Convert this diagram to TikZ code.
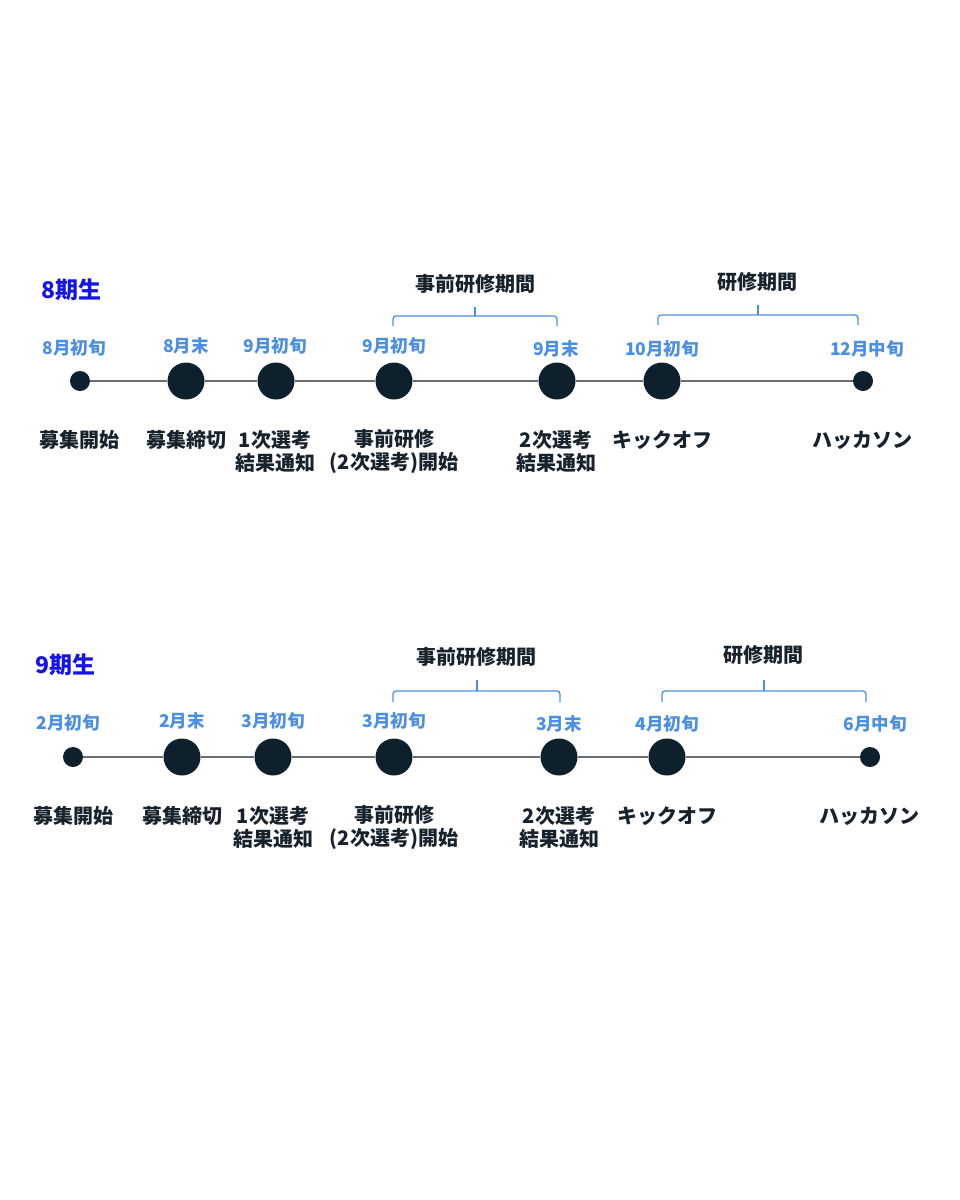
\documentclass[tikz,border=0pt]{standalone}
\usepackage{fontspec}
\setmainfont{Noto Sans CJK JP}
\definecolor{dotc}{HTML}{0F202D}
\definecolor{evtc}{HTML}{17222C}
\definecolor{monthc}{HTML}{4A8FE4}
\definecolor{brkc}{HTML}{4A8FE4}
\definecolor{ttlc}{HTML}{1414E6}
\definecolor{linec}{HTML}{6A6E72}
\begin{document}
\begin{tikzpicture}[x=1pt,y=-1pt,
 dotbig/.style={circle,fill=dotc,inner sep=0pt,minimum size=37pt},
 dotsmall/.style={circle,fill=dotc,inner sep=0pt,minimum size=20pt},
 month/.style={text=monthc,font=\bfseries\fontsize{17.5}{20}\selectfont,inner sep=0pt},
 evt/.style={text=evtc,font=\bfseries\fontsize{20}{23}\selectfont,align=center,inner sep=0pt},
 ttl/.style={text=ttlc,font=\bfseries\fontsize{23}{26}\selectfont,anchor=west,inner sep=0pt},
 brk/.style={draw=brkc,line width=1.3pt,rounded corners=3pt},
 tl/.style={draw=linec,line width=1.3pt},
]
\fill[white] (0,0) rectangle (960,1200);
\useasboundingbox (0,0) rectangle (960,1200);

% ---------------- 8期生 ----------------
\node[ttl] (t8) at (41,290) {8期生};
\node[dotsmall] (a1) at (80,381) {};
\node[dotbig] (a2) at (186,381) {};
\node[dotbig] (a3) at (276,381) {};
\node[dotbig] (a4) at (394,381) {};
\node[dotbig] (a5) at (557,381) {};
\node[dotbig] (a6) at (662,381) {};
\node[dotsmall] (a7) at (863,381) {};
\draw[tl] (a1) -- (a2);
\draw[tl] (a2) -- (a3);
\draw[tl] (a3) -- (a4);
\draw[tl] (a4) -- (a5);
\draw[tl] (a5) -- (a6);
\draw[tl] (a6) -- (a7);

\node[month] (am1) at (74,348) {8月初旬};
\node[month] (am2) at (186,346) {8月末};
\node[month] (am3) at (275,346) {9月初旬};
\node[month] (am4) at (394,346) {9月初旬};
\node[month] (am5) at (556,349) {9月末};
\node[month] (am6) at (662,349) {10月初旬};
\node[month] (am7) at (867,349) {12月中旬};

\node[evt] (ae1) at (79,440) {募集開始};
\node[evt] (ae2) at (186,440) {募集締切};
\node[evt] (ae3) at (275,451) {1次選考\\結果通知};
\node[evt] (ae4) at (394,451) {事前研修\\(2次選考)開始};
\node[evt] (ae5) at (556,451) {2次選考\\結果通知};
\node[evt] (ae6) at (662,440) {キックオフ};
\node[evt] (ae7) at (862,440) {ハッカソン};

\draw[brk] (393,326) -- (393,316) -- (557,316) -- (557,326);
\draw[brk] (475,316) -- (475,307);
\node[evt] (ap1) at (475,284) {事前研修期間};
\draw[brk] (658,325) -- (658,315) -- (858,315) -- (858,325);
\draw[brk] (758,315) -- (758,305);
\node[evt] (ap2) at (757,282) {研修期間};

% ---------------- 9期生 ----------------
\node[ttl] (t9) at (35,665) {9期生};
\node[dotsmall] (b1) at (73,757) {};
\node[dotbig] (b2) at (182,757) {};
\node[dotbig] (b3) at (273,757) {};
\node[dotbig] (b4) at (394,757) {};
\node[dotbig] (b5) at (559,757) {};
\node[dotbig] (b6) at (667,757) {};
\node[dotsmall] (b7) at (870,757) {};
\draw[tl] (b1) -- (b2);
\draw[tl] (b2) -- (b3);
\draw[tl] (b3) -- (b4);
\draw[tl] (b4) -- (b5);
\draw[tl] (b5) -- (b6);
\draw[tl] (b6) -- (b7);

\node[month] (bm1) at (68,723) {2月初旬};
\node[month] (bm2) at (182,721) {2月末};
\node[month] (bm3) at (273,721) {3月初旬};
\node[month] (bm4) at (394,721) {3月初旬};
\node[month] (bm5) at (559,724) {3月末};
\node[month] (bm6) at (667,724) {4月初旬};
\node[month] (bm7) at (875,724) {6月中旬};

\node[evt] (be1) at (73,816) {募集開始};
\node[evt] (be2) at (182,816) {募集締切};
\node[evt] (be3) at (273,827) {1次選考\\結果通知};
\node[evt] (be4) at (394,827) {事前研修\\(2次選考)開始};
\node[evt] (be5) at (559,827) {2次選考\\結果通知};
\node[evt] (be6) at (667,816) {キックオフ};
\node[evt] (be7) at (869,816) {ハッカソン};

\draw[brk] (393,702) -- (393,691) -- (560,691) -- (560,702);
\draw[brk] (477,691) -- (477,680);
\node[evt] (bp1) at (476,657) {事前研修期間};
\draw[brk] (662,702) -- (662,691) -- (866,691) -- (866,702);
\draw[brk] (764,691) -- (764,680);
\node[evt] (bp2) at (763,655) {研修期間};
\end{tikzpicture}
\end{document}
